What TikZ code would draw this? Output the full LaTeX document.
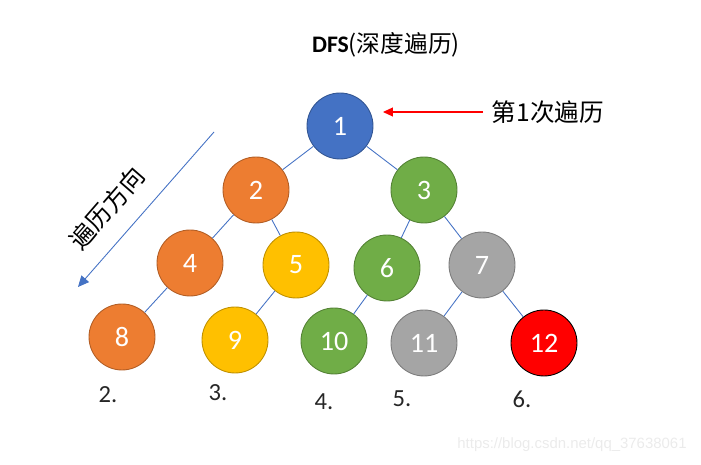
\documentclass[tikz,border=0pt]{standalone}
\usepackage{fontspec}
\setmainfont{Carlito}
\newfontfamily\cjk{Noto Sans CJK SC}
\newfontfamily\wmfont{Liberation Sans}
\usetikzlibrary{arrows.meta}
\definecolor{tblue}{HTML}{4472C4}
\definecolor{torange}{HTML}{ED7D31}
\definecolor{tyellow}{HTML}{FFC000}
\definecolor{tgreen}{HTML}{70AD47}
\definecolor{tgray}{HTML}{A5A5A5}
\definecolor{tred}{HTML}{FF0000}
\tikzset{
  vtx/.style={circle,minimum size=1.32cm,inner sep=0pt,line width=0.5pt,text=white,font=\fontsize{16}{16}\selectfont},
  bluev/.style={vtx,fill=tblue,draw=tblue!75!black},
  orangev/.style={vtx,fill=torange,draw=torange!75!black},
  yellowv/.style={vtx,fill=tyellow,draw=tyellow!75!black},
  greenv/.style={vtx,fill=tgreen,draw=tgreen!75!black},
  grayv/.style={vtx,fill=tgray,draw=tgray!75!black},
  redv/.style={vtx,fill=tred,draw=black},
  edge/.style={tblue,line width=0.5pt},
  order/.style={font=\fontsize{14}{14}\selectfont,text=black!85},
}
\begin{document}
\begin{tikzpicture}[x=0.02cm,y=-0.02cm]
  \useasboundingbox (0,0) rectangle (701,465);
  % tree nodes, coloured by traversal branch
  \node[bluev] (n1) at (340,126){1};
  \node[orangev] (n2) at (256,190){2};
  \node[greenv] (n3) at (424,190){3};
  \node[orangev] (n4) at (190,263){4};
  \node[yellowv] (n5) at (296,265){5};
  \node[greenv] (n6) at (387,268){6};
  \node[grayv] (n7) at (482,265){7};
  \node[orangev] (n8) at (122,337){8};
  \node[yellowv] (n9) at (235,340){9};
  \node[greenv] (n10) at (334,341){10};
  \node[grayv] (n11) at (424,343){11};
  \node[redv] (n12) at (544,343){12};
  % edges
  \draw[edge](n1)--(n2); \draw[edge](n1)--(n3);
  \draw[edge](n2)--(n4); \draw[edge](n2)--(n5);
  \draw[edge](n3)--(n6); \draw[edge](n3)--(n7);
  \draw[edge](n4)--(n8); \draw[edge](n5)--(n9);
  \draw[edge](n6)--(n10); \draw[edge](n7)--(n11); \draw[edge](n7)--(n12);
  % title and first-visit marker
  \node[font=\fontsize{13.5}{13.5}\selectfont] (title) at (386,45){\textbf{DFS}\cjk(深度遍历)};
  \node[font=\fontsize{14}{14}\selectfont\cjk] (first) at (548,112){第1次遍历};
  \coordinate (redtail) at (483,112);
  \coordinate (redtip) at (383,112);
  \draw[-{Triangle[length=2mm,width=1.8mm]},tred,line width=0.6pt](redtail)--(redtip);
  % traversal direction
  \coordinate (dtop) at (214,132);
  \coordinate (dbot) at (78,287);
  \draw[-{Triangle[length=2.2mm,width=2mm]},tblue,line width=0.5pt](dtop)--(dbot);
  \node[rotate=49,font=\fontsize{14}{14}\selectfont\cjk] (dir) at (107,208){遍历方向};
  % visit order of the leaves
  \node[order] (o2) at (108,395){2.};
  \node[order] (o3) at (218,393){3.};
  \node[order] (o4) at (324,402){4.};
  \node[order] (o5) at (402,399){5.};
  \node[order] (o6) at (522,399){6.};
  \node[font=\fontsize{8.5}{8.5}\selectfont\wmfont,text=black!8] (wm) at (572,445){https://blog.csdn.net/qq\_37638061};
\end{tikzpicture}
\end{document}
